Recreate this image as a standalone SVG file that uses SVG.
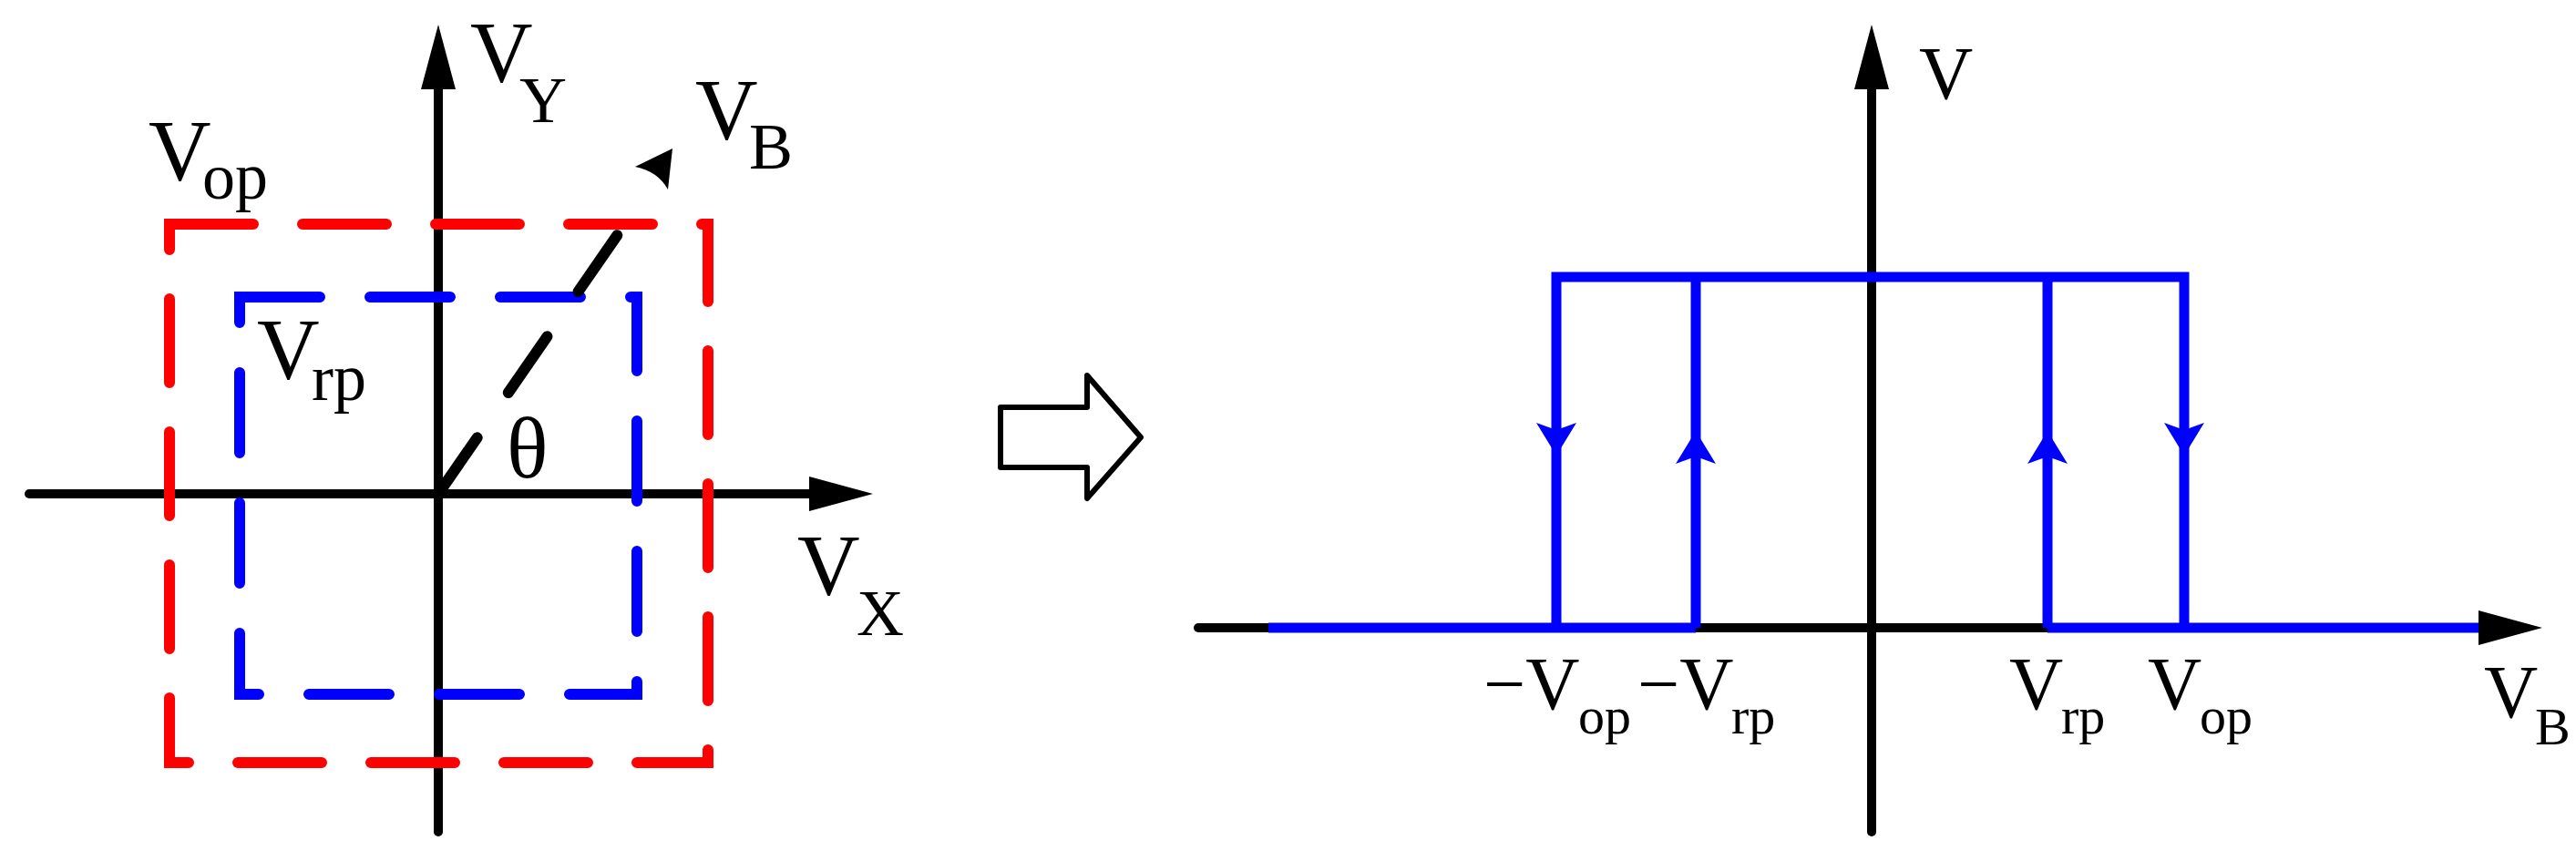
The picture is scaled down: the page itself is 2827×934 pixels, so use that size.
<svg xmlns="http://www.w3.org/2000/svg" width="2827" height="934" viewBox="0 0 2827 934">
<style>
text{font-family:"Liberation Serif",serif;fill:#000}
.ax{stroke:#000;stroke-width:10;fill:none;stroke-linecap:round}
.bl{stroke:#0000ff;stroke-width:11;fill:none}
.big{font-size:95px}.sub{font-size:72px}
.rbig{font-size:82px}.rsub{font-size:58px}
</style>
<g id="left-axes">
<line class="ax" x1="481" y1="913" x2="481" y2="95"/>
<path d="M481,27 L462,98 L500,98 Z"/>
<line class="ax" x1="32" y1="542" x2="890" y2="542"/>
<path d="M958,542 L888,523 L888,561 Z"/>
</g>
<g id="red-box"><rect x="186" y="246" width="591" height="591" fill="none" stroke="#ff0000" stroke-width="12" stroke-linecap="round" stroke-dasharray="92 54"/></g>
<g id="blue-box"><rect x="263" y="326" width="436" height="436" fill="none" stroke="#0000ff" stroke-width="12" stroke-linecap="round" stroke-dasharray="88 55"/></g>
<g id="vb-line">
<line x1="481" y1="542" x2="692" y2="237" stroke="#000" stroke-width="12" stroke-linecap="round" stroke-dasharray="75 60"/>
<path d="M738,163 L697,183 Q722,188 733,208 Z"/>
</g>
<g id="left-labels">
<text class="big" x="516" y="90">V</text><text class="sub" x="570" y="134">Y</text>
<text class="big" x="763" y="153">V</text><text class="sub" x="822" y="185">B</text>
<text class="big" x="163" y="198">V</text><text class="sub" x="222" y="218">op</text>
<text class="big" x="282" y="416">V</text><text class="sub" x="342" y="439">rp</text>
<text class="big" x="556" y="524">θ</text>
<text class="big" x="875" y="653">V</text><text class="sub" x="940" y="697">X</text>
</g>
<g id="hollow-arrow"><path d="M1098,447 L1193,447 L1193,412 L1252,480 L1193,547 L1193,513 L1098,513 Z" fill="#fff" stroke="#000" stroke-width="6" stroke-linejoin="round"/></g>
<g id="right-axes">
<line class="ax" x1="2054" y1="913" x2="2054" y2="95"/>
<path d="M2054,27 L2035,98 L2073,98 Z"/>
<line class="ax" x1="1315" y1="689" x2="2720" y2="689"/>
</g>
<g id="connectors">
<line class="bl" x1="1392" y1="689" x2="1861" y2="689"/>
<line class="bl" x1="2247" y1="689" x2="2725" y2="689"/>
<path d="M2790,689 L2720,670 L2720,708 Z"/>
<path class="bl" d="M1708,689 V304 H2397 V689" stroke-linejoin="miter"/>
<line class="bl" x1="1861" y1="689" x2="1861" y2="304"/>
<line class="bl" x1="2247" y1="689" x2="2247" y2="304"/>
<path d="M1708,500 L1686,464 L1708,472 L1730,464 Z" fill="#0000ff"/>
<path d="M2397,500 L2375,464 L2397,472 L2419,464 Z" fill="#0000ff"/>
<path d="M1861,473 L1839,509 L1861,501 L1883,509 Z" fill="#0000ff"/>
<path d="M2247,473 L2225,509 L2247,501 L2269,509 Z" fill="#0000ff"/>
</g>
<g id="right-labels">
<text class="rbig" x="2106" y="108">V</text>
<text class="rbig" x="1628" y="778">−V</text><text class="rsub" x="1732" y="805">op</text>
<text class="rbig" x="1797" y="778">−V</text><text class="rsub" x="1900" y="805">rp</text>
<text class="rbig" x="2205" y="778">V</text><text class="rsub" x="2262" y="805">rp</text>
<text class="rbig" x="2357" y="778">V</text><text class="rsub" x="2414" y="805">op</text>
<text class="rbig" x="2726" y="787">V</text><text class="rsub" x="2782" y="817">B</text>
</g>
</svg>
